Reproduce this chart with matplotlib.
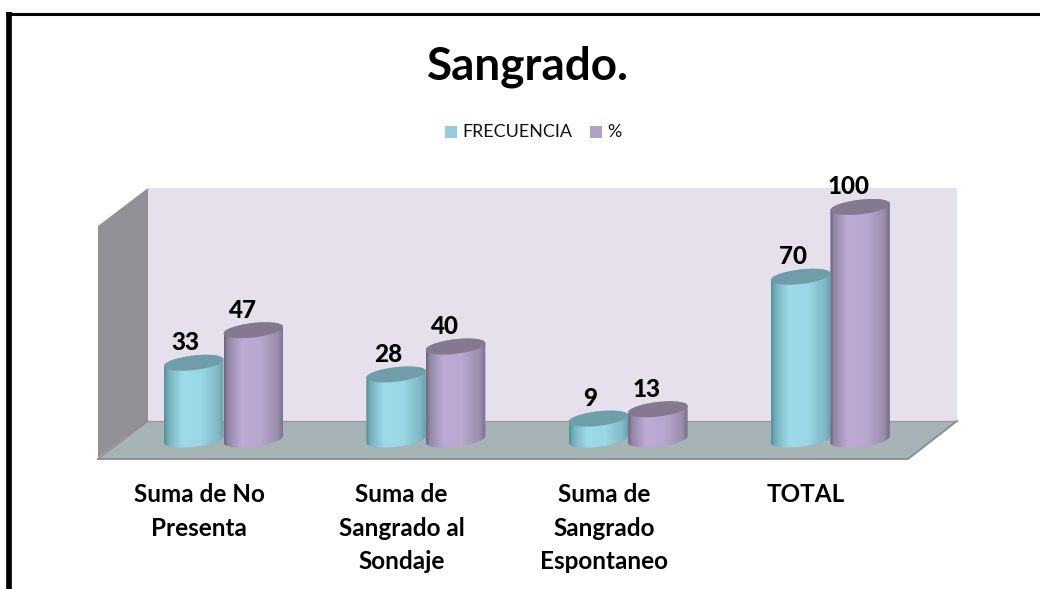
import numpy as np
import matplotlib
matplotlib.use("Agg")
import matplotlib.pyplot as plt
from matplotlib.patches import Polygon, Rectangle
from matplotlib.colors import LinearSegmentedColormap

categories = ["Suma de No\nPresenta", "Suma de\nSangrado al\nSondaje", "Suma de\nSangrado\nEspontaneo", "TOTAL"]
frecuencia = [33, 28, 9, 70]
porcentaje = [47, 40, 13, 100]
series_names = ["FRECUENCIA", "%"]

W, H = 1040, 589
plt.rcParams['font.family'] = ['Lato', 'DejaVu Sans']
fig = plt.figure(figsize=(W / 100, H / 100), dpi=100, facecolor='white')

# pixel-space layer for the chart frame and 3D box
bg = fig.add_axes([0, 0, 1, 1])
bg.set_xlim(0, W); bg.set_ylim(H, 0); bg.axis('off')
bg.add_patch(Polygon([(148, 188), (957, 188), (957, 421), (148, 421)], fc='#e6e0ec', ec='none'))
bg.add_patch(Polygon([(98, 226), (148, 188), (148, 421), (98, 458)], fc='#949098', ec='none'))
bg.add_patch(Polygon([(98, 459), (148, 421), (957, 421), (908, 459)], fc='#a6b3b7', ec='none'))
bg.plot([98, 908, 957], [459, 459, 421], color='#8c8c8c', lw=1.3)
bg.plot([148, 957], [421, 421], color='#999999', lw=0.9)
bg.plot([98, 148], [459, 421], color='#8c8c8c', lw=0.9)
bg.plot([9, 9], [H, 12], color='black', lw=4.1, solid_capstyle='butt')
bg.plot([6, W], [13.5, 13.5], color='black', lw=2.2, solid_capstyle='butt')

# data layer: x in category units, y in value units
PX_PER_CAT, X0 = 202.3, 223.5
PX_PER_VAL, Y0 = 2.325, 439.5
ax = fig.add_axes([0, 0, 1, 1], facecolor='none')
xlim = (-X0 / PX_PER_CAT, (W - X0) / PX_PER_CAT)
ylim = (-(H - Y0) / PX_PER_VAL, Y0 / PX_PER_VAL)
ax.axis('off')

BAR_W = 59.5 / PX_PER_CAT
B = 7.3 / PX_PER_VAL      # ellipse half-height
TILT = 3.3 / PX_PER_VAL   # rise of ellipse at right end

teal = LinearSegmentedColormap.from_list('t', [(0, '#578f9c'), (0.07, '#74afbc'), (0.3, '#9edbea'),
                                               (0.62, '#9ad6e5'), (0.9, '#80b9c6'), (1, '#6a9fac')])
purp = LinearSegmentedColormap.from_list('p', [(0, '#6f6480'), (0.07, '#9688a9'), (0.3, '#bdabd5'),
                                               (0.6, '#b9a7d1'), (0.9, '#9c8eae'), (1, '#7a6d8a')])
grad = np.linspace(0, 1, 128).reshape(1, -1)


def cylinder(xc, value, cmap, top_color, z):
    a = BAR_W / 2
    t = np.linspace(0, np.pi, 60)
    # bottom half of the base ellipse, left to right; top half-arc of the cap, right to left
    bx = xc - a * np.cos(t)
    by = -B * np.sin(t) - TILT * np.cos(t)
    tx = xc + a * np.cos(t)
    ty = value + B * np.sin(t) + TILT * np.cos(t)
    body = Polygon(np.column_stack([np.r_[bx, tx], np.r_[by, ty]]), closed=True, fc='none', ec='none', zorder=z)
    ax.add_patch(body)
    im = ax.imshow(grad, cmap=cmap, aspect='auto', zorder=z, interpolation='bilinear',
                   extent=(xc - a, xc + a, by.min(), value + B + TILT))
    im.set_clip_path(body)
    tt = np.linspace(0, 2 * np.pi, 120)
    cap = np.column_stack([xc + a * np.cos(tt), value + B * np.sin(tt) + TILT * np.cos(tt)])
    ax.add_patch(Polygon(cap, closed=True, fc=top_color, ec='none', zorder=z + 0.1))


LABEL_GAP = 20 / PX_PER_VAL
for i, (f, p) in enumerate(zip(frecuencia, porcentaje)):
    cylinder(i - BAR_W / 2, f, teal, '#6f9eaa', 3)
    cylinder(i + BAR_W / 2, p, purp, '#85798f', 4)
    ax.text(i - BAR_W / 2 - 0.04, f + LABEL_GAP, str(f), ha='center', va='center', fontsize=17.5,
            fontweight='black', color='black', zorder=6)
    ax.text(i + BAR_W / 2 - 0.055, p + LABEL_GAP, str(p), ha='center', va='center', fontsize=17.5,
            fontweight='black', color='black', zorder=6)
    ax.text(i - 0.12, -18.8, categories[i], ha='center', va='top', fontsize=17.5, fontweight='bold',
            color='black', linespacing=1.55, zorder=6)
ax.set_xlim(xlim); ax.set_ylim(ylim)

# title and legend
fig.text(528 / W, 1 - 67 / H, "Sangrado.", ha='center', va='center', fontsize=33, fontweight='bold', color='black')
bg.add_patch(Rectangle((445, 126), 12, 12, fc='#93cddd', ec='none'))
bg.text(462, 132, series_names[0], ha='left', va='center', fontsize=12.9, color='#111111')
bg.add_patch(Rectangle((590, 126), 12, 12, fc='#b2a1c7', ec='none'))
bg.text(607, 132, series_names[1], ha='left', va='center', fontsize=12.9, color='#111111')

fig.savefig('out.png', dpi=100, facecolor='white')
